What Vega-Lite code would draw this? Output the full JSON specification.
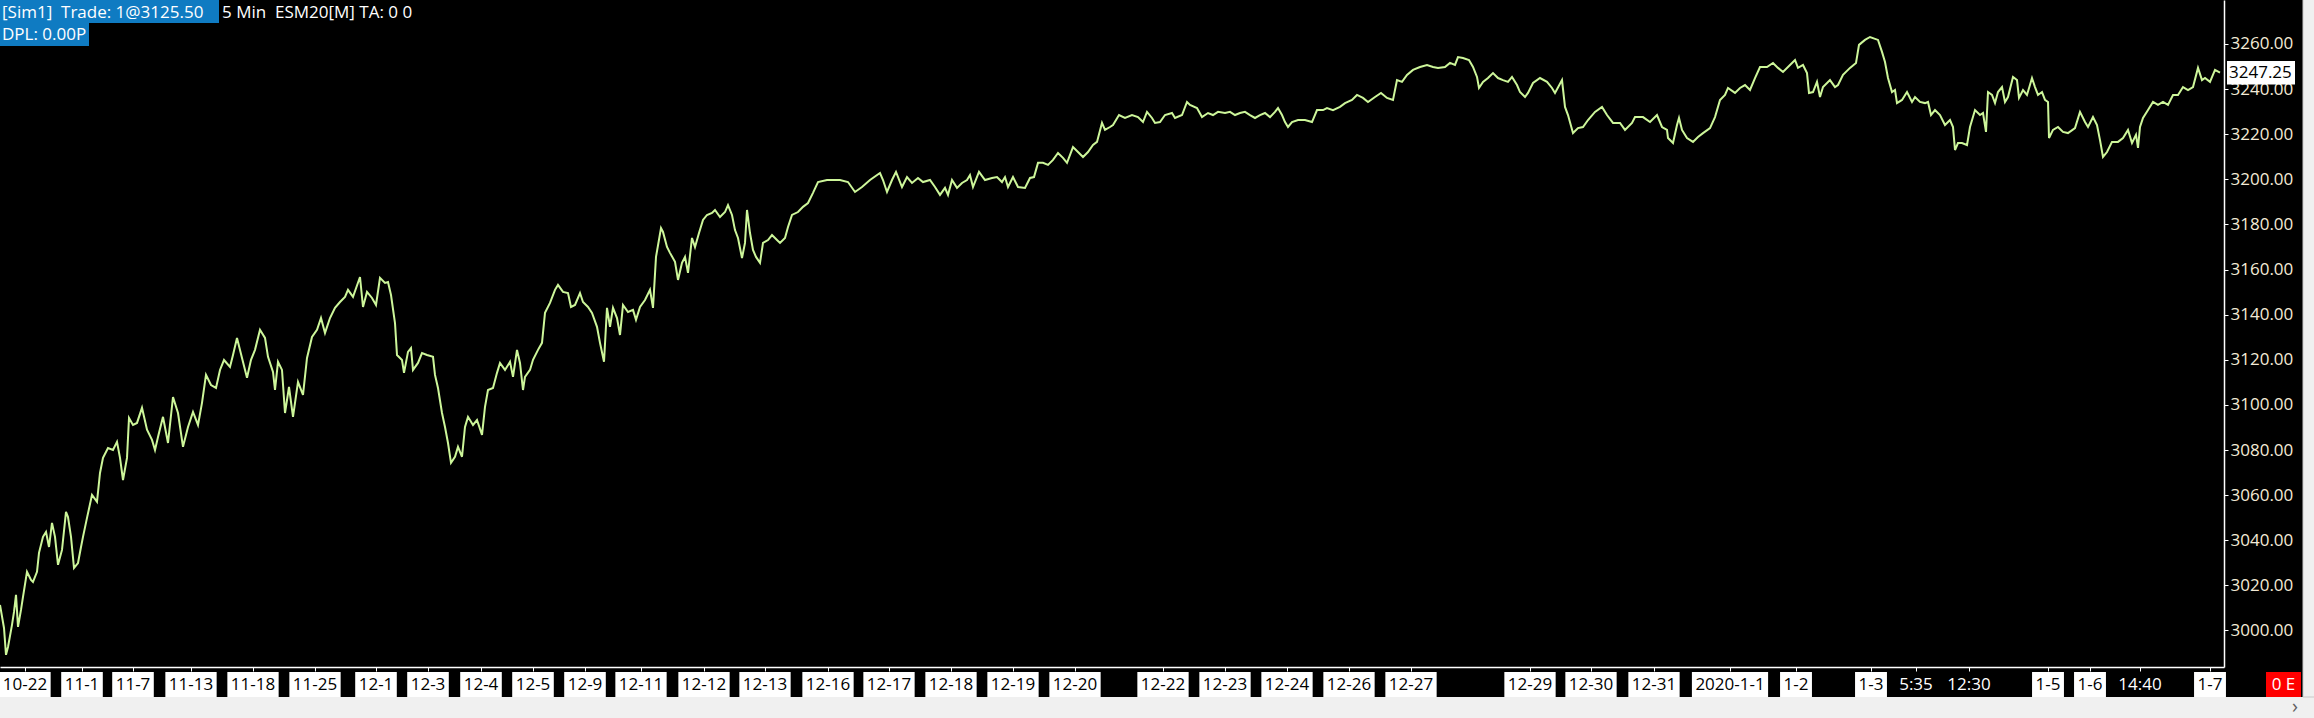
{
  "$schema": "https://vega.github.io/schema/vega-lite/v6.json",
  "width": 2224,
  "height": 667,
  "autosize": {"type": "none"},
  "padding": {"left": 0, "top": 0, "right": 90, "bottom": 51},
  "background": "#000000",
  "config": {"view": {"stroke": null, "fill": "#000000"}, "font": "Open Sans"},
  "datasets": {
    "series": [
      {"b":0,"p":3011.3},{"b":4,"p":3001.1},{"b":6,"p":2989.2},{"b":8,"p":2992.7},{"b":12,"p":3002.5},{"b":14,"p":3008.2},{"b":16,"p":3015.8},{"b":18,"p":3001.6},{"b":21,"p":3009.1},{"b":23,"p":3014.9},{"b":27,"p":3026.0},{"b":31,"p":3022.4},{"b":33,"p":3021.5},{"b":37,"p":3026.0},{"b":39,"p":3034.4},{"b":43,"p":3041.5},{"b":46,"p":3043.7},{"b":49,"p":3037.0},{"b":52,"p":3047.7},{"b":55,"p":3041.5},{"b":58,"p":3029.1},{"b":62,"p":3035.7},{"b":66,"p":3052.6},{"b":68,"p":3050.3},{"b":71,"p":3041.5},{"b":74,"p":3027.7},{"b":78,"p":3029.9},{"b":81,"p":3037.0},{"b":83,"p":3041.5},{"b":87,"p":3049.9},{"b":92,"p":3060.1},{"b":97,"p":3057.0},{"b":100,"p":3069.8},{"b":103,"p":3076.5},{"b":108,"p":3080.9},{"b":113,"p":3080.0},{"b":117,"p":3083.6},{"b":120,"p":3076.5},{"b":123,"p":3066.7},{"b":127,"p":3076.5},{"b":129,"p":3094.2},{"b":133,"p":3091.1},{"b":137,"p":3092.0},{"b":142,"p":3098.7},{"b":147,"p":3089.0},{"b":152,"p":3084.5},{"b":155,"p":3080.0},{"b":158,"p":3085.8},{"b":163,"p":3094.7},{"b":168,"p":3083.1},{"b":173,"p":3103.5},{"b":178,"p":3096.4},{"b":183,"p":3081.4},{"b":188,"p":3090.2},{"b":193,"p":3096.9},{"b":198,"p":3091.1},{"b":202,"p":3100.9},{"b":206,"p":3113.3},{"b":211,"p":3108.8},{"b":216,"p":3107.5},{"b":220,"p":3115.5},{"b":224,"p":3119.9},{"b":230,"p":3116.8},{"b":233,"p":3122.1},{"b":237,"p":3129.7},{"b":242,"p":3120.8},{"b":247,"p":3112.0},{"b":251,"p":3120.0},{"b":255,"p":3124.4},{"b":260,"p":3133.3},{"b":265,"p":3129.7},{"b":268,"p":3121.3},{"b":273,"p":3114.6},{"b":275,"p":3106.6},{"b":278,"p":3119.1},{"b":282,"p":3115.5},{"b":285,"p":3096.4},{"b":289,"p":3108.0},{"b":293,"p":3094.7},{"b":298,"p":3110.2},{"b":303,"p":3104.4},{"b":307,"p":3120.8},{"b":312,"p":3130.1},{"b":317,"p":3133.3},{"b":321,"p":3138.5},{"b":325,"p":3131.9},{"b":330,"p":3138.5},{"b":335,"p":3143.0},{"b":340,"p":3145.6},{"b":345,"p":3147.9},{"b":348,"p":3151.0},{"b":353,"p":3147.9},{"b":360,"p":3156.7},{"b":363,"p":3143.4},{"b":367,"p":3150.1},{"b":372,"p":3147.4},{"b":376,"p":3144.3},{"b":380,"p":3156.3},{"b":385,"p":3154.1},{"b":388,"p":3154.5},{"b":391,"p":3148.7},{"b":395,"p":3136.3},{"b":397,"p":3122.1},{"b":402,"p":3119.9},{"b":404,"p":3114.2},{"b":408,"p":3123.5},{"b":411,"p":3125.2},{"b":413,"p":3115.5},{"b":418,"p":3118.6},{"b":422,"p":3123.0},{"b":427,"p":3122.1},{"b":433,"p":3121.3},{"b":435,"p":3113.3},{"b":438,"p":3107.5},
      {"b":442,"p":3096.4},{"b":445,"p":3090.2},{"b":448,"p":3083.1},{"b":451,"p":3074.3},{"b":455,"p":3077.0},{"b":458,"p":3081.4},{"b":462,"p":3077.0},{"b":465,"p":3090.2},{"b":468,"p":3094.7},{"b":473,"p":3091.1},{"b":477,"p":3093.3},{"b":482,"p":3086.7},{"b":485,"p":3099.1},{"b":488,"p":3106.6},{"b":493,"p":3107.5},{"b":497,"p":3114.2},{"b":500,"p":3118.6},{"b":505,"p":3115.5},{"b":510,"p":3119.1},{"b":513,"p":3112.4},{"b":517,"p":3124.4},{"b":520,"p":3118.6},{"b":523,"p":3106.6},{"b":525,"p":3112.4},{"b":530,"p":3115.5},{"b":533,"p":3120.0},{"b":538,"p":3124.4},{"b":542,"p":3127.5},{"b":545,"p":3140.8},{"b":550,"p":3145.2},{"b":555,"p":3151.0},{"b":558,"p":3153.2},{"b":563,"p":3150.1},{"b":568,"p":3149.6},{"b":571,"p":3143.4},{"b":575,"p":3144.3},{"b":580,"p":3149.6},{"b":583,"p":3145.6},{"b":588,"p":3143.4},{"b":592,"p":3140.8},{"b":597,"p":3134.6},{"b":600,"p":3127.5},{"b":604,"p":3119.1},{"b":607,"p":3143.0},{"b":610,"p":3134.6},{"b":613,"p":3143.0},{"b":617,"p":3138.5},{"b":620,"p":3131.0},{"b":623,"p":3144.3},{"b":628,"p":3141.2},{"b":633,"p":3142.1},{"b":636,"p":3137.7},{"b":640,"p":3143.4},{"b":645,"p":3146.5},{"b":650,"p":3151.0},{"b":653,"p":3143.0},{"b":656,"p":3165.6},{"b":661,"p":3178.4},{"b":663,"p":3176.7},{"b":667,"p":3170.0},{"b":670,"p":3167.4},{"b":675,"p":3163.4},{"b":678,"p":3155.4},{"b":682,"p":3163.0},{"b":685,"p":3165.6},{"b":688,"p":3158.5},{"b":692,"p":3174.0},{"b":695,"p":3170.0},{"b":699,"p":3176.2},{"b":703,"p":3182.0},{"b":707,"p":3184.2},{"b":712,"p":3185.1},{"b":715,"p":3186.4},{"b":720,"p":3183.3},{"b":725,"p":3185.5},{"b":728,"p":3188.6},{"b":732,"p":3184.2},{"b":735,"p":3177.5},{"b":738,"p":3174.0},{"b":742,"p":3165.1},{"b":745,"p":3171.8},{"b":747,"p":3186.4},{"b":750,"p":3176.2},{"b":753,"p":3168.7},{"b":756,"p":3165.6},{"b":760,"p":3163.0},{"b":763,"p":3171.8},{"b":768,"p":3173.1},{"b":772,"p":3175.3},{"b":777,"p":3173.1},{"b":780,"p":3171.8},{"b":785,"p":3174.0},{"b":788,"p":3178.9},{"b":792,"p":3184.2},{"b":798,"p":3185.5},{"b":803,"p":3187.8},{"b":808,"p":3189.5},{"b":813,"p":3194.0},{"b":818,"p":3198.8},{"b":827,"p":3199.7},{"b":840,"p":3199.7},{"b":848,"p":3198.8},{"b":855,"p":3194.4},{"b":862,"p":3196.6},{"b":870,"p":3199.7},{"b":880,"p":3202.8},
      {"b":883,"p":3199.7},{"b":887,"p":3194.4},{"b":892,"p":3199.7},{"b":896,"p":3203.3},{"b":902,"p":3196.6},{"b":907,"p":3201.0},{"b":912,"p":3198.4},{"b":918,"p":3200.6},{"b":923,"p":3198.8},{"b":930,"p":3199.7},{"b":935,"p":3196.6},{"b":940,"p":3193.1},{"b":945,"p":3196.2},{"b":948,"p":3193.1},{"b":952,"p":3199.7},{"b":957,"p":3196.2},{"b":962,"p":3198.4},{"b":967,"p":3199.7},{"b":970,"p":3201.9},{"b":973,"p":3196.6},{"b":979,"p":3203.3},{"b":985,"p":3199.7},{"b":992,"p":3200.6},{"b":997,"p":3201.0},{"b":1002,"p":3198.8},{"b":1005,"p":3201.0},{"b":1008,"p":3196.6},{"b":1013,"p":3201.0},{"b":1018,"p":3196.6},{"b":1025,"p":3196.2},{"b":1030,"p":3200.6},{"b":1034,"p":3201.0},{"b":1038,"p":3207.3},{"b":1043,"p":3207.3},{"b":1048,"p":3206.4},{"b":1053,"p":3208.6},{"b":1058,"p":3211.7},{"b":1063,"p":3209.5},{"b":1067,"p":3207.3},{"b":1073,"p":3214.3},{"b":1078,"p":3212.1},{"b":1083,"p":3209.9},{"b":1088,"p":3212.1},{"b":1093,"p":3215.2},{"b":1097,"p":3216.6},{"b":1102,"p":3225.0},{"b":1105,"p":3221.9},{"b":1110,"p":3223.2},{"b":1113,"p":3224.1},{"b":1119,"p":3228.5},{"b":1125,"p":3227.2},{"b":1132,"p":3228.5},{"b":1138,"p":3227.6},{"b":1143,"p":3225.4},{"b":1147,"p":3229.9},{"b":1152,"p":3227.2},{"b":1155,"p":3225.0},{"b":1160,"p":3225.4},{"b":1165,"p":3228.5},{"b":1172,"p":3229.4},{"b":1175,"p":3227.2},{"b":1182,"p":3228.5},{"b":1187,"p":3234.3},{"b":1190,"p":3233.0},{"b":1197,"p":3231.6},{"b":1202,"p":3227.6},{"b":1208,"p":3229.4},{"b":1213,"p":3228.5},{"b":1218,"p":3229.9},{"b":1225,"p":3229.4},{"b":1230,"p":3229.9},{"b":1235,"p":3228.5},{"b":1240,"p":3229.4},{"b":1245,"p":3229.9},{"b":1250,"p":3228.5},{"b":1255,"p":3227.2},{"b":1260,"p":3228.5},{"b":1265,"p":3229.4},{"b":1270,"p":3227.6},{"b":1275,"p":3229.9},{"b":1278,"p":3231.6},{"b":1282,"p":3228.5},{"b":1285,"p":3225.4},{"b":1288,"p":3223.2},{"b":1292,"p":3225.4},{"b":1298,"p":3226.3},{"b":1305,"p":3226.3},{"b":1312,"p":3225.4},{"b":1317,"p":3230.7},{"b":1323,"p":3230.7},
      {"b":1327,"p":3231.6},{"b":1333,"p":3230.7},{"b":1340,"p":3232.1},{"b":1345,"p":3233.8},{"b":1352,"p":3235.2},{"b":1357,"p":3237.4},{"b":1363,"p":3236.1},{"b":1368,"p":3234.3},{"b":1375,"p":3236.5},{"b":1381,"p":3238.3},{"b":1387,"p":3236.1},{"b":1393,"p":3235.2},{"b":1397,"p":3244.0},{"b":1402,"p":3243.2},{"b":1407,"p":3246.3},{"b":1413,"p":3248.5},{"b":1420,"p":3249.8},{"b":1427,"p":3250.7},{"b":1433,"p":3249.8},{"b":1438,"p":3249.4},{"b":1445,"p":3249.8},{"b":1450,"p":3251.6},{"b":1455,"p":3250.7},{"b":1458,"p":3254.2},{"b":1463,"p":3253.8},{"b":1469,"p":3252.9},{"b":1473,"p":3249.8},{"b":1477,"p":3245.4},{"b":1479,"p":3240.5},{"b":1483,"p":3243.2},{"b":1488,"p":3244.9},{"b":1493,"p":3247.1},{"b":1498,"p":3244.9},{"b":1503,"p":3244.0},{"b":1508,"p":3243.2},{"b":1512,"p":3245.4},{"b":1517,"p":3241.8},{"b":1520,"p":3238.7},{"b":1525,"p":3236.5},{"b":1528,"p":3238.3},{"b":1533,"p":3242.7},{"b":1540,"p":3244.9},{"b":1547,"p":3243.2},{"b":1552,"p":3240.5},{"b":1555,"p":3238.3},{"b":1562,"p":3244.0},{"b":1565,"p":3232.1},{"b":1568,"p":3228.5},{"b":1573,"p":3220.5},{"b":1578,"p":3222.7},{"b":1583,"p":3223.2},{"b":1588,"p":3226.3},{"b":1595,"p":3229.9},{"b":1602,"p":3232.1},{"b":1607,"p":3228.5},{"b":1613,"p":3225.0},{"b":1620,"p":3225.0},{"b":1625,"p":3221.9},{"b":1632,"p":3225.0},{"b":1635,"p":3227.6},{"b":1643,"p":3227.6},{"b":1650,"p":3225.4},{"b":1657,"p":3228.5},{"b":1662,"p":3223.2},{"b":1667,"p":3221.9},{"b":1668,"p":3218.3},{"b":1673,"p":3216.1},{"b":1677,"p":3224.1},{"b":1679,"p":3227.2},{"b":1682,"p":3221.9},{"b":1687,"p":3218.3},{"b":1693,"p":3216.6},{"b":1698,"p":3218.8},{"b":1703,"p":3220.5},{"b":1710,"p":3222.7},{"b":1715,"p":3227.6},{"b":1720,"p":3235.2},{"b":1725,"p":3237.4},{"b":1728,"p":3240.5},{"b":1735,"p":3238.3},{"b":1740,"p":3240.5},{"b":1745,"p":3241.8},{"b":1750,"p":3239.6},{"b":1755,"p":3244.9},{"b":1760,"p":3249.8},
      {"b":1767,"p":3249.8},{"b":1773,"p":3251.6},{"b":1778,"p":3249.4},{"b":1783,"p":3247.6},{"b":1790,"p":3250.7},{"b":1795,"p":3252.9},{"b":1798,"p":3249.4},{"b":1803,"p":3250.7},{"b":1807,"p":3247.1},{"b":1809,"p":3238.3},{"b":1813,"p":3238.7},{"b":1817,"p":3243.2},{"b":1820,"p":3236.5},{"b":1823,"p":3240.9},{"b":1830,"p":3244.0},{"b":1835,"p":3240.9},{"b":1838,"p":3241.8},{"b":1843,"p":3246.3},{"b":1850,"p":3249.4},{"b":1856,"p":3251.6},{"b":1859,"p":3259.6},{"b":1865,"p":3261.8},{"b":1870,"p":3263.1},{"b":1878,"p":3261.8},{"b":1882,"p":3256.5},{"b":1885,"p":3252.0},{"b":1888,"p":3244.9},{"b":1892,"p":3238.7},{"b":1895,"p":3239.6},{"b":1897,"p":3233.8},{"b":1902,"p":3235.2},{"b":1907,"p":3238.7},{"b":1912,"p":3234.3},{"b":1915,"p":3236.5},{"b":1920,"p":3234.3},{"b":1925,"p":3233.8},{"b":1928,"p":3234.3},{"b":1931,"p":3228.5},{"b":1935,"p":3230.7},{"b":1940,"p":3228.5},{"b":1945,"p":3224.1},{"b":1950,"p":3226.3},{"b":1953,"p":3223.2},{"b":1955,"p":3213.0},{"b":1958,"p":3216.1},{"b":1962,"p":3216.1},{"b":1967,"p":3215.2},{"b":1970,"p":3223.2},{"b":1975,"p":3230.7},{"b":1980,"p":3228.5},{"b":1983,"p":3229.4},{"b":1986,"p":3221.0},{"b":1988,"p":3238.7},{"b":1992,"p":3237.4},{"b":1995,"p":3233.8},{"b":1998,"p":3238.7},{"b":2002,"p":3240.9},{"b":2005,"p":3234.3},{"b":2008,"p":3236.5},{"b":2013,"p":3245.4},{"b":2017,"p":3244.0},{"b":2019,"p":3236.1},{"b":2023,"p":3239.6},{"b":2027,"p":3237.4},{"b":2032,"p":3244.9},{"b":2035,"p":3240.9},{"b":2038,"p":3237.4},{"b":2042,"p":3238.7},{"b":2045,"p":3235.2},{"b":2048,"p":3234.3},{"b":2049,"p":3218.3},{"b":2053,"p":3221.9},{"b":2058,"p":3223.2},{"b":2063,"p":3221.0},{"b":2068,"p":3220.5},{"b":2075,"p":3222.7},{"b":2080,"p":3229.9},{"b":2085,"p":3225.4},{"b":2088,"p":3223.2},{"b":2093,"p":3227.6},{"b":2097,"p":3224.1},{"b":2100,"p":3217.4},{"b":2103,"p":3209.9},{"b":2107,"p":3212.1},{"b":2112,"p":3216.6},{"b":2118,"p":3216.6},{"b":2123,"p":3218.3},{"b":2128,"p":3221.9},{"b":2132,"p":3216.1},{"b":2136,"p":3219.7},{"b":2138,"p":3213.9},{"b":2140,"p":3223.2},{"b":2143,"p":3227.2},{"b":2148,"p":3230.7},{"b":2153,"p":3234.3},{"b":2158,"p":3233.0},{"b":2163,"p":3234.3},{"b":2168,"p":3233.0},{"b":2173,"p":3237.4},{"b":2178,"p":3237.4},{"b":2183,"p":3240.9},{"b":2188,"p":3239.6},{"b":2193,"p":3240.9},{"b":2198,"p":3249.4},{"b":2202,"p":3244.0},{"b":2205,"p":3244.9},{"b":2210,"p":3243.2},{"b":2215,"p":3248.5},{"b":2220,"p":3247.25}
    ],
    "xlabels": [
      {"b":25,"t":"10-22"},{"b":82,"t":"11-1"},{"b":133,"t":"11-7"},{"b":191,"t":"11-13"},{"b":253,"t":"11-18"},{"b":315,"t":"11-25"},{"b":376,"t":"12-1"},{"b":428,"t":"12-3"},{"b":481,"t":"12-4"},{"b":533,"t":"12-5"},{"b":585,"t":"12-9"},{"b":641,"t":"12-11"},{"b":704,"t":"12-12"},{"b":765,"t":"12-13"},{"b":828,"t":"12-16"},{"b":889,"t":"12-17"},{"b":951,"t":"12-18"},{"b":1013,"t":"12-19"},{"b":1075,"t":"12-20"},{"b":1163,"t":"12-22"},{"b":1225,"t":"12-23"},{"b":1287,"t":"12-24"},{"b":1349,"t":"12-26"},{"b":1411,"t":"12-27"},{"b":1530,"t":"12-29"},{"b":1591,"t":"12-30"},{"b":1654,"t":"12-31"},{"b":1730,"t":"2020-1-1"},{"b":1796,"t":"1-2"},{"b":1871,"t":"1-3"},{"b":1916,"t":"5:35"},{"b":1969,"t":"12:30"},{"b":2048,"t":"1-5"},{"b":2090,"t":"1-6"},{"b":2140,"t":"14:40"},{"b":2210,"t":"1-7"}
    ],
    "last": [{"p": 3247.25, "t": "3247.25"}]
  },
  "layer": [
    {
      "data": {"name": "series"},
      "mark": {"type": "line", "color": "#cdf69a", "strokeWidth": 2, "interpolate": "linear"},
      "encoding": {
        "x": {
          "field": "b", "type": "quantitative",
          "scale": {"domain": [0, 2224], "nice": false, "zero": false},
          "axis": {
            "orient": "bottom", "title": null, "labels": false, "grid": false,
            "values": [25,82,133,191,253,315,376,428,481,533,585,641,704,765,828,889,951,1013,1075,1163,1225,1287,1349,1411,1530,1591,1654,1730,1796,1871,1916,1969,2048,2090,2140,2210],
            "domainColor": "#ffffff", "domainWidth": 1.5, "tickColor": "#ffffff", "tickSize": 4
          }
        },
        "y": {
          "field": "p", "type": "quantitative",
          "scale": {"domain": [2983.8, 3279.5], "nice": false, "zero": false},
          "axis": {
            "orient": "right", "title": null, "grid": false,
            "values": [3000,3020,3040,3060,3080,3100,3120,3140,3160,3180,3200,3220,3240,3260],
            "format": ".2f", "labelColor": "#f3ead6", "labelFontSize": 17, "labelFont": "Open Sans",
            "labelPadding": 2, "tickColor": "#ffffff", "tickSize": 4,
            "domainColor": "#ffffff", "domainWidth": 1.5
          }
        }
      }
    },
    {
      "data": {"name": "xlabels"},
      "transform": [
        {"filter": "indexof(datum.t, ':') < 0"},
        {"calculate": "length(split(datum.t, '-')) - 1", "as": "nh"},
        {"calculate": "(length(datum.t) - datum.nh) * 9.7 + datum.nh * 5.5 + 7", "as": "w"},
        {"calculate": "datum.b - datum.w / 2", "as": "b0"},
        {"calculate": "datum.b + datum.w / 2", "as": "b1"}
      ],
      "mark": {"type": "rect", "color": "#ffffff"},
      "encoding": {
        "x": {"field": "b0", "type": "quantitative"},
        "x2": {"field": "b1"},
        "y": {"value": 672},
        "y2": {"value": 697}
      }
    },
    {
      "data": {"name": "xlabels"},
      "mark": {"type": "text", "fontSize": 17, "font": "Open Sans", "baseline": "middle", "align": "center"},
      "encoding": {
        "x": {"field": "b", "type": "quantitative"},
        "y": {"value": 685},
        "text": {"field": "t"},
        "color": {"condition": {"test": "indexof(datum.t, ':') >= 0", "value": "#ffffff"}, "value": "#000000"}
      }
    },
    {
      "data": {"name": "last"},
      "transform": [
        {"calculate": "datum.p + 5.2", "as": "hi"},
        {"calculate": "datum.p - 5.2", "as": "lo"}
      ],
      "mark": {"type": "rect", "color": "#ffffff"},
      "encoding": {
        "x": {"value": 2227},
        "x2": {"value": 2295},
        "y": {"field": "hi", "type": "quantitative"},
        "y2": {"field": "lo"}
      }
    },
    {
      "data": {"name": "last"},
      "mark": {"type": "text", "fontSize": 17, "font": "Open Sans", "baseline": "middle", "align": "left", "color": "#000000"},
      "encoding": {
        "x": {"value": 2229},
        "y": {"field": "p", "type": "quantitative"},
        "text": {"field": "t"}
      }
    },
    {
      "data": {"values": [{"t": "[Sim1]\u00a0 Trade: 1@3125.50"}]},
      "mark": {"type": "rect", "color": "#0f7bc2"},
      "encoding": {"x": {"value": 0}, "x2": {"value": 219}, "y": {"value": 0}, "y2": {"value": 23}}
    },
    {
      "data": {"values": [{"t": "DPL: 0.00P"}]},
      "mark": {"type": "rect", "color": "#0f7bc2"},
      "encoding": {"x": {"value": 0}, "x2": {"value": 89}, "y": {"value": 23}, "y2": {"value": 46}}
    },
    {
      "data": {"values": [{"t": "[Sim1]\u00a0 Trade: 1@3125.50"}]},
      "mark": {"type": "text", "fontSize": 17, "font": "Open Sans", "baseline": "middle", "align": "left", "color": "#ffffff"},
      "encoding": {"x": {"value": 2}, "y": {"value": 12.5}, "text": {"field": "t"}}
    },
    {
      "data": {"values": [{"t": "5 Min\u00a0 ESM20[M] TA: 0 0"}]},
      "mark": {"type": "text", "fontSize": 17, "font": "Open Sans", "baseline": "middle", "align": "left", "color": "#ffffff"},
      "encoding": {"x": {"value": 222}, "y": {"value": 12.5}, "text": {"field": "t"}}
    },
    {
      "data": {"values": [{"t": "DPL: 0.00P"}]},
      "mark": {"type": "text", "fontSize": 17, "font": "Open Sans", "baseline": "middle", "align": "left", "color": "#ffffff"},
      "encoding": {"x": {"value": 2}, "y": {"value": 35}, "text": {"field": "t"}}
    },
    {
      "data": {"values": [{"t": "0 E"}]},
      "mark": {"type": "rect", "color": "#ff0000"},
      "encoding": {"x": {"value": 2266}, "x2": {"value": 2301}, "y": {"value": 672}, "y2": {"value": 697}}
    },
    {
      "data": {"values": [{"t": "0 E"}]},
      "mark": {"type": "text", "fontSize": 17, "font": "Open Sans", "baseline": "middle", "align": "center", "color": "#ffffff"},
      "encoding": {"x": {"value": 2283.5}, "y": {"value": 685}, "text": {"field": "t"}}
    },
    {
      "data": {"values": [{"t": "scroll"}]},
      "mark": {"type": "rect", "color": "#f0f0f0"},
      "encoding": {"x": {"value": 0}, "x2": {"value": 2314}, "y": {"value": 697}, "y2": {"value": 718}}
    },
    {
      "data": {"values": [{"t": "scroll"}]},
      "mark": {"type": "rect", "color": "#f0f0f0", "stroke": "#c8c8c8", "strokeWidth": 1},
      "encoding": {"x": {"value": 2303}, "x2": {"value": 2315}, "y": {"value": -1}, "y2": {"value": 697}}
    },
    {
      "data": {"values": [{"t": "›"}]},
      "mark": {"type": "text", "fontSize": 20, "font": "Open Sans", "baseline": "middle", "align": "center", "color": "#606060"},
      "encoding": {"x": {"value": 2295}, "y": {"value": 707}, "text": {"field": "t"}}
    }
  ]
}
